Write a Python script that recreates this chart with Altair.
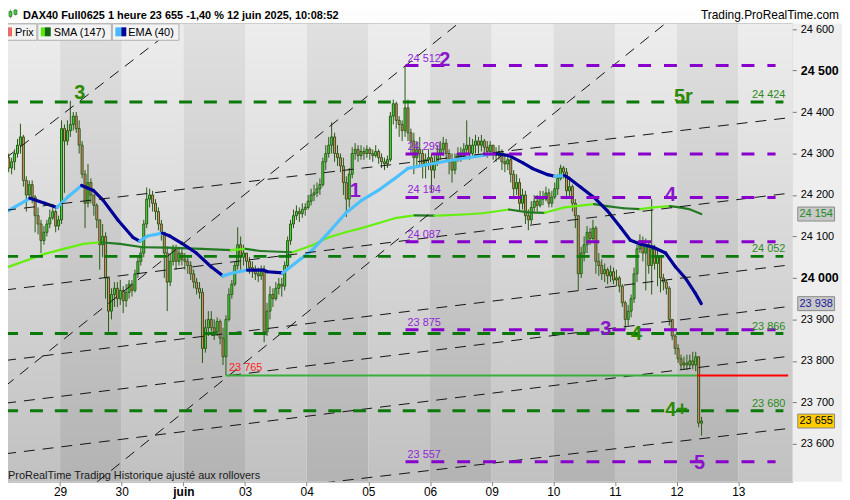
import altair as alt
import pandas as pd

FONT = "Liberation Sans"
W, H = 789, 461
X_MIN, X_MAX = 0.2359, 12.7956
Y_MIN, Y_MAX = 23508.9, 24613.7
BARS_PER_DAY = 21

# ---- hourly candles per trading day: (close, high, low); open = previous close
first_open = 24300
may28 = [(24290, 24320, 24270), (24265, 24300, 24255), (24280, 24290, 24250), (24300, 24310, 24260),
         (24320, 24335, 24290), (24340, 24372, 24300), (24235, 24345, 24220), (24200, 24245, 24160),
         (24225, 24235, 24190), (24195, 24235, 24180), (24150, 24200, 24110), (24130, 24170, 24105),
         (24090, 24140, 24060), (24110, 24125, 24080), (24130, 24140, 24100), (24145, 24165, 24120),
         (24160, 24170, 24140), (24125, 24165, 24110), (24140, 24150, 24115)]
may29 = [(24360, 24380, 24130), (24330, 24370, 24205), (24355, 24380, 24320), (24370, 24427, 24340),
         (24390, 24400, 24355), (24360, 24400, 24350), (24320, 24380, 24300), (24250, 24330, 24240),
         (24180, 24260, 24120), (24230, 24275, 24170), (24200, 24240, 24180), (24175, 24200, 24150),
         (24140, 24180, 24120), (24080, 24140, 24020), (24100, 24130, 24050), (24000, 24110, 23950),
         (23920, 24000, 23870), (23960, 23975, 23900), (23975, 23990, 23930), (23950, 23990, 23930),
         (23970, 23995, 23935)]
may30 = [(23945, 23980, 23915), (23965, 23985, 23930), (23985, 23995, 23950), (23970, 23995, 23955),
         (24010, 24020, 23965), (24040, 24050, 24000), (24060, 24075, 24030), (24130, 24140, 24050),
         (24190, 24218, 24120), (24200, 24215, 24170), (24180, 24210, 24160), (24160, 24190, 24140),
         (24130, 24170, 24115), (24110, 24140, 24090), (24060, 24110, 24000), (23990, 24070, 23920),
         (24040, 24060, 23980), (24070, 24080, 24030), (24040, 24080, 24020), (24060, 24075, 24030),
         (24045, 24070, 24030)]
jun02 = [(24040, 24060, 24020), (24030, 24055, 24010), (24010, 24040, 23995), (23990, 24020, 23975),
         (23975, 24000, 23960), (23965, 23990, 23950), (23830, 23975, 23795), (23880, 23900, 23820),
         (23900, 23920, 23860), (23880, 23920, 23870), (23870, 23900, 23850), (23895, 23905, 23860),
         (23855, 23900, 23840), (23810, 23880, 23790), (23900, 23910, 23765), (23960, 23975, 23895),
         (23985, 23995, 23950), (24030, 24040, 23980), (24080, 24122, 24020), (24050, 24100, 24020),
         (24060, 24080, 24030)]
jun03 = [(24040, 24060, 24020), (24025, 24050, 24010), (24020, 24040, 24000), (24010, 24030, 23995),
         (24005, 24025, 23990), (24015, 24030, 23995), (23870, 24030, 23845), (23920, 23940, 23860),
         (23960, 23980, 23900), (23950, 23975, 23930), (23975, 23990, 23945), (23985, 24000, 23960),
         (23980, 24000, 23955), (24030, 24040, 23970), (24090, 24100, 24020), (24130, 24140, 24080),
         (24150, 24165, 24120), (24160, 24175, 24140), (24155, 24170, 24135), (24165, 24180, 24145),
         (24170, 24180, 24150)]
jun04 = [(24185, 24200, 24165), (24200, 24215, 24175), (24205, 24225, 24185), (24215, 24230, 24195),
         (24225, 24240, 24200), (24280, 24290, 24220), (24300, 24320, 24260), (24320, 24340, 24290),
         (24340, 24375, 24300), (24300, 24350, 24280), (24290, 24320, 24270), (24270, 24300, 24255),
         (24230, 24290, 24200), (24190, 24245, 24147), (24250, 24265, 24170), (24300, 24315, 24240),
         (24310, 24325, 24285), (24295, 24320, 24280), (24305, 24320, 24285), (24300, 24315, 24285),
         (24310, 24320, 24290)]
jun05 = [(24300, 24315, 24285), (24295, 24310, 24280), (24305, 24320, 24290), (24290, 24310, 24275),
         (24280, 24300, 24265), (24275, 24290, 24260), (24285, 24295, 24265), (24390, 24400, 24280),
         (24420, 24430, 24370), (24380, 24425, 24360), (24370, 24390, 24340), (24355, 24380, 24330),
         (24410, 24512, 24340), (24350, 24430, 24330), (24330, 24360, 24300), (24290, 24350, 24250),
         (24310, 24330, 24270), (24300, 24340, 24270), (24270, 24310, 24240), (24285, 24300, 24240),
         (24290, 24310, 24260)]
jun06 = [(24260, 24300, 24205), (24280, 24295, 24240), (24300, 24320, 24270), (24310, 24330, 24285),
         (24325, 24340, 24295), (24300, 24335, 24285), (24280, 24310, 24250), (24260, 24300, 24230),
         (24285, 24300, 24250), (24300, 24315, 24280), (24295, 24315, 24280), (24310, 24325, 24290),
         (24320, 24380, 24300), (24300, 24340, 24285), (24320, 24335, 24290), (24330, 24345, 24300),
         (24320, 24340, 24300), (24330, 24345, 24305), (24315, 24335, 24295), (24305, 24330, 24290),
         (24320, 24330, 24295)]
jun09 = [(24300, 24320, 24285), (24295, 24315, 24280), (24305, 24320, 24285), (24280, 24310, 24260),
         (24275, 24295, 24255), (24285, 24300, 24260), (24250, 24290, 24230), (24215, 24260, 24190),
         (24230, 24250, 24200), (24180, 24240, 24160), (24200, 24215, 24165), (24150, 24210, 24130),
         (24140, 24165, 24115), (24170, 24185, 24130), (24185, 24200, 24160), (24175, 24200, 24160),
         (24195, 24210, 24170), (24190, 24210, 24175), (24205, 24220, 24185), (24180, 24215, 24170),
         (24195, 24210, 24170)]
jun10 = [(24215, 24230, 24190), (24240, 24250, 24200), (24265, 24273, 24235), (24255, 24270, 24240),
         (24210, 24265, 24190), (24220, 24235, 24195), (24180, 24225, 24160), (24150, 24190, 24120),
         (24010, 24150, 23970), (24060, 24075, 24000), (24080, 24100, 24040), (24110, 24125, 24060),
         (24095, 24120, 24080), (24120, 24140, 24090), (24040, 24125, 24010), (24030, 24060, 24005),
         (24010, 24045, 23995), (24020, 24035, 23990), (24005, 24025, 23985), (24015, 24030, 23990),
         (23995, 24025, 23985)]
jun11 = [(24000, 24020, 23980), (23980, 24005, 23965), (23940, 23985, 23930), (23900, 23945, 23875),
         (23920, 23935, 23885), (23950, 23960, 23905), (24010, 24025, 23940), (24070, 24080, 23990),
         (24090, 24105, 24060), (24060, 24100, 24040), (24080, 24095, 23970), (24030, 24085, 24010),
         (24070, 24190, 23960), (24035, 24080, 24020), (24050, 24065, 23980), (24000, 24055, 23965),
         (23990, 24010, 23970), (23975, 23995, 23960), (23900, 23980, 23885), (23860, 23900, 23850),
         (23830, 23865, 23815)]
jun12 = [(23805, 23840, 23795), (23790, 23815, 23780), (23795, 23810, 23778), (23790, 23815, 23778),
         (23800, 23815, 23780), (23790, 23822, 23780), (23810, 23822, 23775), (23650, 23810, 23640),
         (23655, 23665, 23620)]

# day index (0 = 28 mai), first hourly slot of the day shown, candles
sessions = [(0, 2, may28), (1, 0, may29), (2, 0, may30), (3, 0, jun02), (4, 0, jun03), (5, 0, jun04),
            (6, 0, jun05), (7, 0, jun06), (8, 0, jun09), (9, 0, jun10), (10, 0, jun11), (11, 0, jun12)]

day_labels = ["", "29", "30", "juin", "03", "04", "05", "06", "09", "10", "11", "12", "13"]

# ---- indicators (knots): x in trading days, price
sma_x = [0.11, 0.75, 1.06, 1.38, 1.65, 1.97, 2.34, 2.74, 3.29, 3.77, 4.01, 4.25, 4.77, 5.09, 5.36, 5.63,
         5.89, 6.16, 6.43, 6.75, 7.07, 7.22, 7.54, 7.86, 8.28, 8.59, 8.86, 9.18, 9.66, 9.87, 10.14, 10.41,
         10.62, 10.89, 11.05, 11.20, 11.40]
sma_p = [24024, 24058, 24070, 24082, 24086, 24082, 24074, 24073, 24070, 24067, 24070, 24065, 24062, 24079,
         24098, 24110, 24120, 24132, 24144, 24151, 24150, 24151, 24153, 24156, 24165, 24158, 24157, 24170,
         24178, 24173, 24168, 24166, 24170, 24173, 24170, 24166, 24154]
ema_x = [0.11, 0.51, 0.75, 0.95, 1.14, 1.35, 1.54, 1.70, 1.94, 2.18, 2.29, 2.42, 2.66, 2.78, 2.97, 3.21,
         3.45, 3.64, 3.80, 4.04, 4.30, 4.36, 4.61, 4.88, 5.09, 5.36, 5.63, 5.89, 6.16, 6.43, 6.64, 6.95,
         7.32, 7.75, 8.07, 8.28, 8.50, 8.66, 8.91, 9.02, 9.18, 9.26, 9.45, 9.66, 9.87, 10.09, 10.25, 10.41,
         10.62, 10.82, 10.98, 11.14, 11.30, 11.40]
ema_p = [24158, 24192, 24180, 24170, 24197, 24223, 24211, 24187, 24139, 24098, 24089, 24101, 24108, 24101,
         24084, 24060, 24027, 24005, 24012, 24019, 24019, 24015, 24012, 24043, 24067, 24110, 24156, 24187,
         24211, 24240, 24264, 24273, 24283, 24293, 24300, 24295, 24278, 24264, 24249, 24245, 24247, 24240,
         24218, 24194, 24163, 24122, 24091, 24082, 24074, 24060, 24027, 24000, 23964, 23938]

# ---- drawn channel lines: (x0, p0, x1, p1)
channel_lines = [
    (0.109, 24163, 12.81, 24386), (0.109, 23971, 12.81, 24204), (0.109, 23801, 12.81, 24031),
    (0.109, 23698, 12.81, 23931), (0.109, 23576, 12.81, 23811), (0.109, 23416, 12.81, 23637),
    (0.109, 24288, 2.958, 24614), (0.109, 23739, 7.463, 24614), (1.589, 23507, 10.822, 24614),
]
green_levels = [24424, 24052, 23866, 23680]
purple_levels = [24512, 24299, 24194, 24087, 23875, 23557]
support_level = 23765
support_start, support_break = 3.69, 11.33

waves = [("3", 1.32, 24446, "#2b8a00"), ("2", 7.24, 24525, "#8a14cc"), ("1", 5.79, 24209, "#8a14cc"),
         ("5r", 11.11, 24436, "#2b8a00"), ("4", 10.90, 24199, "#8a14cc"), ("3", 9.85, 23878, "#8a14cc"),
         ("4", 10.35, 23864, "#2b8a00"), ("4+", 11.00, 23682, "#2b8a00"), ("5", 11.37, 23554, "#8a14cc")]

tags = [(24154, "#c8c8c8", "#1f8a1f"), (23938, "#c8c8c8", "#1a1a9a"), (23655, "#ffcc00", "#000000")]


def fmt(v):
    return f"{v:,}".replace(",", " ")


# ---- build tables
rows = []
prev = first_open
for d, i0, bars in sessions:
    for k, (c, h, l) in enumerate(bars):
        o = prev
        rows.append(dict(x=d + (i0 + k + 0.5) / BARS_PER_DAY, o=o, c=c, h=max(h, o, c), l=min(l, o, c),
                         dir="up" if c >= o else "down"))
        prev = c
candles = pd.DataFrame(rows)

bands = pd.DataFrame([dict(d0=d, d1=d + 1, shade="dark" if d % 2 else "light") for d in range(0, 13)])


def segs(xs_, ps_):
    return pd.DataFrame([dict(x0=xs_[i], x1=xs_[i + 1], p0=ps_[i], p1=ps_[i + 1],
                              dir="up" if ps_[i + 1] > ps_[i] else "down") for i in range(len(xs_) - 1)])


sma_df = segs(sma_x, sma_p)
ema_df = segs(ema_x, ema_p)
chan_df = pd.DataFrame(channel_lines, columns=["x0", "p0", "x1", "p1"])
green_df = pd.DataFrame(dict(p=green_levels, x0=0.109, x1=12.732, lab=[fmt(v) for v in green_levels], xl=12.764))
purple_df = pd.DataFrame(dict(p=purple_levels, x0=6.603, x1=12.605, lab=[fmt(v) for v in purple_levels], xl=6.635))
sup_df = pd.DataFrame([dict(x0=support_start, x1=support_break, p=support_level, col="#39b039"),
                       dict(x0=support_break, x1=12.81, p=support_level, col="#ff0000")])
wave_df = pd.DataFrame(waves, columns=["t", "x", "p", "col"])
tag_df = pd.DataFrame([dict(p=v, bg=bg, fg=fg, lab=fmt(v)) for v, bg, fg in tags])
one = pd.DataFrame({"a": [0]})

xs = alt.Scale(domain=[X_MIN, X_MAX], nice=False, zero=False)
ys = alt.Scale(domain=[Y_MIN, Y_MAX], nice=False, zero=False)

xaxis = alt.Axis(values=list(range(1, 13)),
                 labelExpr="['','29','30','juin','03','04','05','06','09','10','11','12','13'][datum.value]",
                 tickSize=4, tickColor="#888", domain=False, grid=False, labelFont=FONT, labelFontSize=12,
                 labelColor="#000", labelPadding=1, labelFlush=False, labelOverlap=False, zindex=1,
                 labelFontWeight=alt.condition("datum.value === 3", alt.value("bold"), alt.value("normal")),
                 title=None)
yaxis = alt.Axis(orient="right", values=list(range(23600, 24601, 100)),
                 labelExpr="replace(format(datum.value, ','), ',', ' ')",
                 labelAlign="left", labelBaseline="middle", labelPadding=4, tickSize=4, tickColor="#777",
                 domain=False, grid=False, labelFont=FONT, labelColor="#000", labelOverlap=False, zindex=1,
                 labelFontSize=alt.condition("datum.value % 500 === 0", alt.value(12.5), alt.value(11)),
                 labelFontWeight=alt.condition("datum.value % 500 === 0", alt.value("bold"), alt.value("normal")),
                 title=None)


def X(f):
    return alt.X(f, scale=xs, axis=xaxis)


def Y(f):
    return alt.Y(f, scale=ys, axis=yaxis)


def grad(top, bottom):
    return alt.LinearGradient(gradient="linear", x1=0, x2=0, y1=0, y2=1,
                              stops=[alt.GradientStop(offset=0, color=top),
                                     alt.GradientStop(offset=1, color=bottom)])


def prect(x, x2, y, y2, **kw):
    return alt.Chart(one).mark_rect(**kw).encode(x=alt.value(x), x2=alt.value(x2), y=alt.value(y), y2=alt.value(y2))


def ptext(txt, x, y, **kw):
    kw.setdefault("font", FONT)
    kw.setdefault("baseline", "alphabetic")
    kw.setdefault("align", "left")
    return alt.Chart(one).mark_text(text=txt, **kw).encode(x=alt.value(x), y=alt.value(y))


backdrop = [prect(W, 839, 0, H, fill="#eeeeee")]

band_light = alt.Chart(bands).transform_filter("datum.shade == 'light'").mark_rect(
    fill=grad("#ededed", "#c1c1c1"), clip=True).encode(
    x=X("d0:Q"), x2="d1:Q", y=alt.value(0), y2=alt.value(H))
band_dark = alt.Chart(bands).transform_filter("datum.shade == 'dark'").mark_rect(
    fill=grad("#e0e0e0", "#b3b3b3"), clip=True).encode(
    x=X("d0:Q"), x2="d1:Q", y=alt.value(0), y2=alt.value(H))

OUT = "#2a5a14"
wicks = alt.Chart(candles).mark_rule(color=OUT, strokeWidth=1, clip=True).encode(
    x=X("x:Q"), y=Y("l:Q"), y2="h:Q")
bodies = alt.Chart(candles).mark_bar(size=2.0, stroke=OUT, strokeWidth=1, clip=True).encode(
    x=X("x:Q"), y=Y("o:Q"), y2="c:Q",
    fill=alt.Fill("dir:N", scale=alt.Scale(domain=["up", "down"], range=["#44dd44", "#f08474"]), legend=None))

sma = alt.Chart(sma_df).mark_rule(strokeWidth=2.2, strokeCap="round", clip=True).encode(
    x=X("x0:Q"), x2="x1:Q", y=Y("p0:Q"), y2="p1:Q",
    color=alt.Color("dir:N", scale=alt.Scale(domain=["up", "down"], range=["#66ee11", "#237a23"]), legend=None))
ema = alt.Chart(ema_df).mark_rule(strokeWidth=3.2, strokeCap="round", clip=True).encode(
    x=X("x0:Q"), x2="x1:Q", y=Y("p0:Q"), y2="p1:Q",
    stroke=alt.Stroke("dir:N", scale=alt.Scale(domain=["up", "down"], range=["#4cc0ff", "#000099"]), legend=None))

chan = alt.Chart(chan_df).mark_rule(color="#151515", strokeWidth=1, strokeDash=[11, 8], clip=True).encode(
    x=X("x0:Q"), x2="x1:Q", y=Y("p0:Q"), y2="p1:Q")

green_lines = alt.Chart(green_df).mark_rule(color="#0b7a0b", strokeWidth=3, strokeDash=[13, 12], clip=True).encode(
    x=X("x0:Q"), x2="x1:Q", y=Y("p:Q"))
purple_lines = alt.Chart(purple_df).mark_rule(color="#8800cc", strokeWidth=3, strokeDash=[13, 13], clip=True).encode(
    x=X("x0:Q"), x2="x1:Q", y=Y("p:Q"))
sup = alt.Chart(sup_df).mark_rule(strokeWidth=2, clip=True).encode(
    x=X("x0:Q"), x2="x1:Q", y=Y("p:Q"), color=alt.Color("col:N", scale=None))

green_lab = alt.Chart(green_df).mark_text(font=FONT, fontSize=11, color="#2b8a1e", align="right",
                                           baseline="alphabetic", dy=-4).encode(
    x=X("xl:Q"), y=Y("p:Q"), text="lab:N")
purple_lab = alt.Chart(purple_df).mark_text(font=FONT, fontSize=11, color="#9126d6", align="left",
                                             baseline="alphabetic", dy=-4).encode(
    x=X("xl:Q"), y=Y("p:Q"), text="lab:N")
sup_lab = alt.Chart(pd.DataFrame(dict(x=[support_start + 0.05], p=[support_level], t=[fmt(support_level)]))).mark_text(
    font=FONT, fontSize=11, color="#ff1a1a", align="left", baseline="alphabetic", dy=-4).encode(
    x=X("x:Q"), y=Y("p:Q"), text="t:N")

wave_lab = alt.Chart(wave_df).mark_text(font=FONT, fontSize=20, fontWeight="bold", align="center",
                                         baseline="middle").encode(
    x=X("x:Q"), y=Y("p:Q"), text="t:N", color=alt.Color("col:N", scale=None))

chrome = [
    prect(0, 839, -14, -0.5, fill="#fdfdfd"),
    # small candlestick icon of the title bar
    prect(-2.5, -2, -13, -2, fill="#2a5a14"), prect(-4, -1, -10, -4, fill="#44cc44", stroke="#2a5a14", strokeWidth=0.6),
    prect(2.5, 3, -14, -5, fill="#2a5a14"), prect(1, 4, -12, -7, fill="#44cc44", stroke="#2a5a14", strokeWidth=0.6),
    prect(7.5, 8, -14, -8, fill="#2a5a14"), prect(6, 9, -13.5, -9, fill="#44cc44", stroke="#2a5a14", strokeWidth=0.6),
    ptext("DAX40 Full0625 1 heure 23 655 -1,40 % 12 juin 2025, 10:08:52", 15, -4.5,
          fontSize=11, fontWeight="bold", color="#000"),
    ptext("Trading.ProRealTime.com", 836, -4.5, fontSize=12, align="right", color="#000"),
    # legend boxes
    prect(-8, 29, 0.5, 17, fill="#f3f3f3", stroke="#b0b0b0", strokeWidth=1),
    prect(30, 104, 0.5, 17, fill="#f3f3f3", stroke="#b0b0b0", strokeWidth=1),
    prect(105, 172, 0.5, 17, fill="#f3f3f3", stroke="#b0b0b0", strokeWidth=1),
    prect(-6, -1, 4, 13, fill="#44cc44"), prect(-1, 4, 4, 13, fill="#e86a6a"),
    prect(33, 37, 4, 13, fill="#55ee00"), prect(37, 43, 4, 13, fill="#116611"),
    prect(108, 114, 4, 13, fill="#44bbff"), prect(114, 119, 4, 13, fill="#000099"),
    ptext("Prix", 7, 12.5, fontSize=11, color="#000"),
    ptext("SMA (147)", 46, 12.5, fontSize=11, color="#000"),
    ptext("EMA (40)", 121, 12.5, fontSize=11, color="#000"),
    ptext("ProRealTime Trading  Historique ajusté aux rollovers", 0, 458, fontSize=11, color="#1a1a1a"),
]

tag_box = alt.Chart(tag_df).mark_point(shape="M-1,-0.38L1,-0.38L1,0.38L-1,0.38Z", size=1369, filled=True,
                                       opacity=1, stroke="#8a8a8a", strokeWidth=1).encode(
    x=alt.value(813), y=Y("p:Q"), fill=alt.Fill("bg:N", scale=None))
tag_txt = alt.Chart(tag_df).mark_text(font=FONT, fontSize=11, align="center", baseline="middle").encode(
    x=alt.value(813), y=Y("p:Q"), text="lab:N", color=alt.Color("fg:N", scale=None))

chart = alt.layer(
    *backdrop, band_light, band_dark, wicks, bodies, sma, ema, chan, green_lines, purple_lines, sup,
    green_lab, purple_lab, sup_lab, wave_lab, *chrome, tag_box, tag_txt
).properties(
    width=W, height=H,
    autosize=alt.AutoSizeParams(type="none"),
    padding={"left": 0, "top": 14, "right": 50, "bottom": 17},
    background="#ffffff",
).configure_view(stroke="#a0a0a0", strokeWidth=1)

chart.save("out.html", embed_options={"renderer": "svg", "actions": False})
